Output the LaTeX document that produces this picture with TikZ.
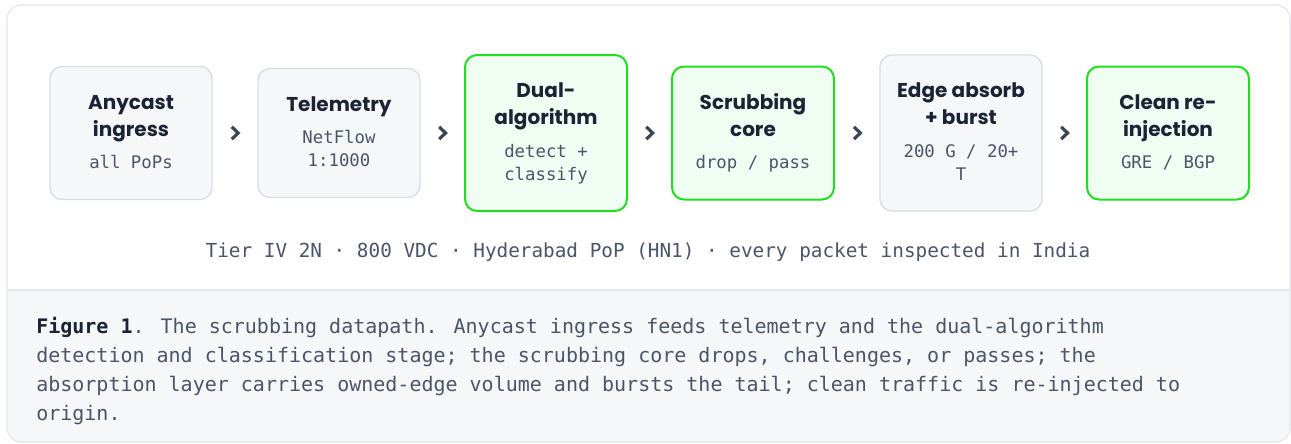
\documentclass[tikz,border=0pt]{standalone}
\usepackage{fontspec}
\newfontfamily\ttlfont{Poppins}
\newfontfamily\monofont{DejaVu Sans Mono}

\definecolor{ink}{HTML}{1B2434}
\definecolor{slate}{HTML}{4B5568}
\definecolor{chevgrey}{HTML}{3A4557}
\definecolor{framegrey}{HTML}{E3E6EB}
\definecolor{bandgrey}{HTML}{F6F7F9}
\definecolor{boxgrey}{HTML}{F6F7F9}
\definecolor{boxline}{HTML}{D9DEE6}
\definecolor{okgreen}{HTML}{22DD22}
\definecolor{okfill}{HTML}{F0FDF3}

\newcommand\ttl{\ttlfont\bfseries\fontsize{15}{20.25}\selectfont\color{ink}}
\newcommand\sub{\monofont\mdseries\fontsize{13}{17.25}\selectfont\color{slate}}
\newcommand\stagetext[2]{%
  \begin{minipage}{112.5pt}\centering
    \ttl\strut#1\strut\par\nointerlineskip\vspace{6pt}%
    \sub\strut#2\strut\par
  \end{minipage}}

\tikzset{
  stage/.style={rectangle, rounded corners=9pt, minimum width=121.5pt,
    inner xsep=0pt, inner ysep=18pt},
  grey box/.style={stage, draw=boxline, fill=boxgrey, line width=1.1pt},
  green box/.style={stage, draw=okgreen, fill=okfill, line width=1.5pt},
  chev/.style={draw=chevgrey, line width=2.4pt}
}

\begin{document}
\begin{tikzpicture}[x=0.75pt, y=-0.75pt]
  \useasboundingbox (0,0) rectangle (1291,443);

  % Frame and caption band
  \begin{scope}
    \clip[rounded corners=10.5pt] (7,5) rectangle (1290,442);
    \fill[white] (7,5) rectangle (1290,290);
    \fill[bandgrey] (7,290) rectangle (1290,442);
  \end{scope}
  \draw[framegrey, line width=1pt] (7,290) -- (1290,290);
  \draw[framegrey, line width=0.9pt, rounded corners=10.5pt] (7,5) rectangle (1290,442);

  % Stages
  \node[grey box]  (any)   at (131,133)  {\stagetext{Anycast\\ingress}{all PoPs}};
  \node[grey box]  (tel)   at (339,133)  {\stagetext{Telemetry}{NetFlow\\1:1000}};
  \node[green box] (dual)  at (546,133)  {\stagetext{Dual-\\algorithm}{detect +\\classify}};
  \node[green box] (scrub) at (753,133)  {\stagetext{Scrubbing\\core}{drop / pass}};
  \node[grey box]  (edge)  at (961,133)  {\stagetext{Edge absorb\\+ burst}{200 G / 20+\\T}};
  \node[green box] (clean) at (1168,133) {\stagetext{Clean re-\\injection}{GRE / BGP}};

  % Chevrons between stages
  \foreach \a/\b in {any/tel, tel/dual, dual/scrub, scrub/edge, edge/clean} {
    \path (\a.east) -- (\b.west) coordinate[midway] (m);
    \draw[chev] ([xshift=-2.4pt, yshift=4.6pt]m) -- ([xshift=2.4pt]m)
      -- ([xshift=-2.4pt, yshift=-4.6pt]m);
  }

  % Footer line
  \node[text=slate, font=\monofont\fontsize{14.5}{17}\selectfont] (foot) at (648,252)
    {Tier IV 2N · 800 VDC · Hyderabad PoP (HN1) · every packet inspected in India};

  % Caption
  \node[anchor=north west, inner sep=0pt, align=left, text=slate,
    font=\monofont\fontsize{15}{21.75}\selectfont] (cap) at (36,317)
    {{\bfseries\color{ink}Figure 1}. The scrubbing datapath. Anycast ingress feeds telemetry and the dual-algorithm\\
     detection and classification stage; the scrubbing core drops, challenges, or passes; the\\
     absorption layer carries owned-edge volume and bursts the tail; clean traffic is re-injected to\\
     origin.};
\end{tikzpicture}
\end{document}
